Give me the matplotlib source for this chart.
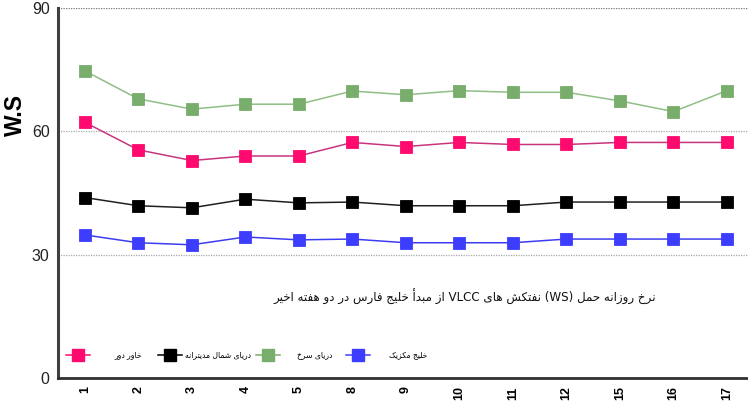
import numpy as np
import matplotlib
matplotlib.use('Agg')
import matplotlib.pyplot as plt
from matplotlib.lines import Line2D

# Data
days = ['1', '2', '3', '4', '5', '8', '9', '10', '11', '12', '15', '16', '17']
red_sea = [74.7, 67.9, 65.4, 66.6, 66.6, 69.8, 68.9, 69.9, 69.5, 69.5, 67.4, 64.8, 69.9]
far_east = [62.2, 55.5, 52.9, 54.0, 54.0, 57.3, 56.3, 57.3, 56.8, 56.8, 57.3, 57.3, 57.3]
north_med = [43.9, 41.9, 41.4, 43.5, 42.6, 42.8, 41.9, 41.9, 41.9, 42.8, 42.8, 42.8, 42.8]
gulf_mexico = [34.8, 32.9, 32.4, 34.3, 33.6, 33.8, 32.9, 32.9, 32.9, 33.8, 33.8, 33.8, 33.8]

title_text = 'نرخ روزانه حمل (WS) نفتکش های VLCC از مبدأ خلیج فارس در دو هفته اخیر'
labels = ['خاور دور', 'دریای شمال مدیترانه', 'دریای سرخ', 'خلیج مکزیک']

# Minimal Persian shaping (matplotlib has no complex text layout)
# forms: isolated, final, initial, medial (None -> right-joining only)
FORMS = {
    'ا': (0xFE8D, 0xFE8E, None, None),
    'أ': (0xFE83, 0xFE84, None, None),
    'ب': (0xFE8F, 0xFE90, 0xFE91, 0xFE92),
    'ت': (0xFE95, 0xFE96, 0xFE97, 0xFE98),
    'ج': (0xFE9D, 0xFE9E, 0xFE9F, 0xFEA0),
    'ح': (0xFEA1, 0xFEA2, 0xFEA3, 0xFEA4),
    'خ': (0xFEA5, 0xFEA6, 0xFEA7, 0xFEA8),
    'د': (0xFEA9, 0xFEAA, None, None),
    'ر': (0xFEAD, 0xFEAE, None, None),
    'ز': (0xFEAF, 0xFEB0, None, None),
    'س': (0xFEB1, 0xFEB2, 0xFEB3, 0xFEB4),
    'ش': (0xFEB5, 0xFEB6, 0xFEB7, 0xFEB8),
    'ف': (0xFED1, 0xFED2, 0xFED3, 0xFED4),
    'ل': (0xFEDD, 0xFEDE, 0xFEDF, 0xFEE0),
    'م': (0xFEE1, 0xFEE2, 0xFEE3, 0xFEE4),
    'ن': (0xFEE5, 0xFEE6, 0xFEE7, 0xFEE8),
    'ه': (0xFEE9, 0xFEEA, 0xFEEB, 0xFEEC),
    'و': (0xFEED, 0xFEEE, None, None),
    'ک': (0xFB8E, 0xFB8F, 0xFB90, 0xFB91),
    'ی': (0xFBFC, 0xFBFD, 0xFBFE, 0xFBFF),
}


def shape_word(word):
    out = []
    n = len(word)
    for i, ch in enumerate(word):
        if ch not in FORMS:
            out.append(ch)
            continue
        f = FORMS[ch]
        prev = word[i - 1] if i > 0 else None
        nxt = word[i + 1] if i < n - 1 else None
        join_prev = prev in FORMS and FORMS[prev][2] is not None
        join_next = nxt in FORMS and f[2] is not None
        if join_prev and join_next:
            out.append(chr(f[3]))
        elif join_prev:
            out.append(chr(f[1]))
        elif join_next:
            out.append(chr(f[2]))
        else:
            out.append(chr(f[0]))
    return ''.join(out)


def rtl(text):
    words = []
    for w in text.split(' '):
        if any(c in FORMS for c in w):
            words.append(shape_word(w)[::-1])
        else:
            words.append(w)
    return ' '.join(reversed(words))


plt.rcParams['font.family'] = ['DejaVu Sans']

W, H = 748, 416
fig = plt.figure(figsize=(W / 100, H / 100), dpi=100)
ax = fig.add_axes([58 / W, 38 / H, 1 - 58 / W + 0.002, 370 / H])

x = np.arange(len(days))
series = [
    (far_east, '#ff0a6e', '#c8357f'),
    (north_med, '#000000', '#202020'),
    (red_sea, '#79ad6c', '#8fbf84'),
    (gulf_mexico, '#3d3dff', '#3d3df0'),
]
for vals, mcol, lcol in series:
    ax.plot(x, vals, color=lcol, lw=1.1, zorder=2)
    ax.plot(x, vals, ls='none', marker='s', ms=8.5, mfc=mcol,
            mec=mcol, mew=0.6, zorder=3)

ax.set_xlim(-0.5, 12.42)
ax.set_ylim(0, 90)
ax.set_yticks([0, 30, 60, 90])
ax.tick_params(axis='y', length=0, labelsize=11.5, pad=6, labelcolor='#222222')
ax.tick_params(axis='x', length=0, pad=6)
ax.set_xticks(x)
ax.set_xticklabels(days, rotation=90, fontsize=9, fontweight='bold',
                   family='Liberation Sans')
for lab in ax.get_yticklabels():
    lab.set_family('Liberation Sans')

for yv in [30, 60, 90]:
    ax.axhline(yv, color='#aaaaaa' if yv < 90 else '#777777', lw=0.9,
               ls=(0, (1, 1)), zorder=1)

ax.spines['top'].set_visible(False)
ax.spines['right'].set_visible(False)
ax.spines['left'].set_linewidth(2.2)
ax.spines['left'].set_color('#404040')
ax.spines['bottom'].set_linewidth(2.0)
ax.spines['bottom'].set_color('#303030')

ax.set_ylabel('W.S', fontsize=16.5, fontweight='bold', family='Liberation Sans')
ax.yaxis.set_label_coords((27 - 58) / 696, 0.71)

ax.text((467 - 58) / 696, (378 - 297) / 370, rtl(title_text),
        transform=ax.transAxes, ha='center', va='center', fontsize=8.6,
        color='#111111')

# hand-built legend: key at left, label right-aligned before the next key
key_px = [78, 170, 268, 358]
text_right_px = [142, 251, 332, 427]
leg_y = (416 - 355) / H
for (vals, mcol, lcol), kx, tx, lab in zip(series, key_px, text_right_px, labels):
    fig.add_artist(Line2D([(kx - 12) / W, (kx + 12) / W], [leg_y, leg_y],
                          color=mcol, lw=1.1, transform=fig.transFigure))
    fig.add_artist(Line2D([kx / W], [leg_y], ls='none', marker='s', ms=8.5,
                          mfc=mcol, mec=mcol, transform=fig.transFigure))
    fig.text(tx / W, leg_y, rtl(lab), ha='right', va='center', fontsize=5.5)

fig.savefig('out.png', dpi=100)
